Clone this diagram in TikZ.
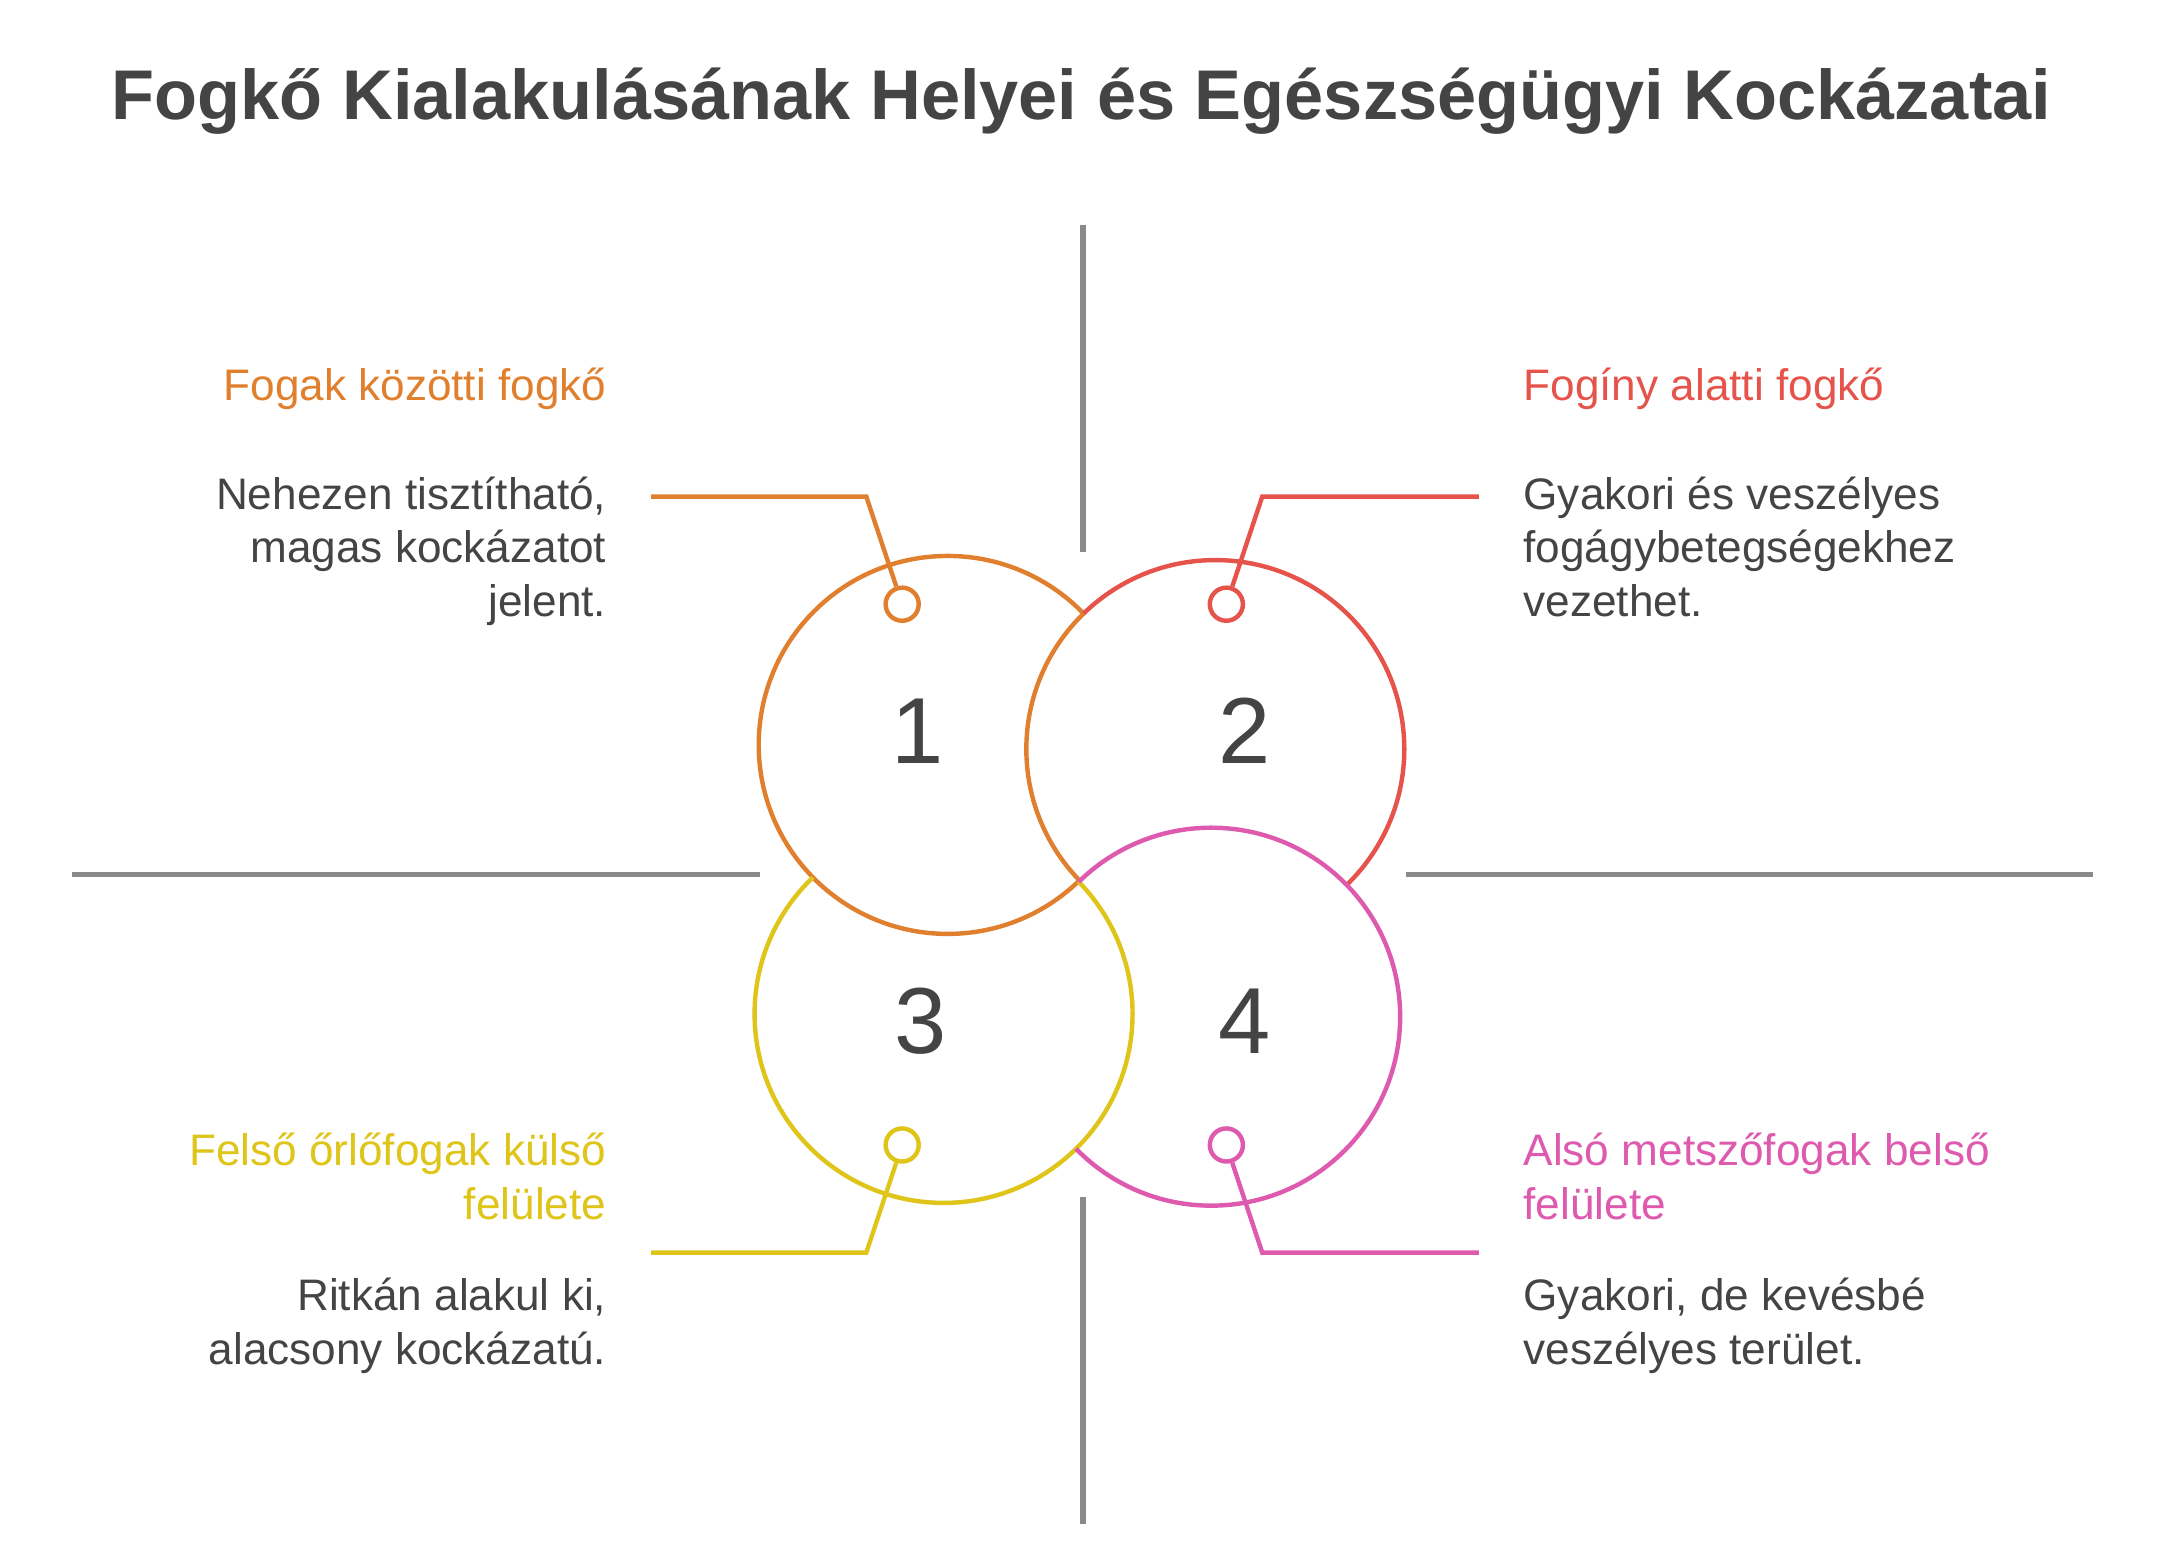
\documentclass[tikz,border=0pt]{standalone}
\usepackage{fontspec}
\setmainfont{Liberation Sans}
\usepackage{tikz}
\definecolor{cOrange}{HTML}{E07F2E}
\definecolor{cRed}{HTML}{E5534B}
\definecolor{cYellow}{HTML}{DFC41A}
\definecolor{cPink}{HTML}{DE5AAE}
\definecolor{cText}{HTML}{444444}
\definecolor{cGray}{HTML}{8A8A8A}
\begin{document}
\begin{tikzpicture}[x=0.5pt, y=-0.5pt, line width=1.5pt,
ring_style/.style={draw=#1, line width=1.6pt},
dot_style/.style={circle, draw=#1, line width=1.6pt, fill=white, minimum size=12pt, inner sep=0pt},
link_style/.style={draw=#1, line width=1.6pt},
axis_style/.style={draw=cGray, line width=2pt},
num_style/.style={text=cText, font=\fontsize{34}{40}\selectfont},
head_style/.style={text=#1, font=\fontsize{16}{19.5}\selectfont, inner sep=0pt},
body_style/.style={text=cText, font=\fontsize{16}{19.5}\selectfont, inner sep=0pt}]
\useasboundingbox (0,0) rectangle (1568,1124);
\node[text=cText, font=\bfseries\fontsize{25.5}{30}\selectfont] (title) at (784,73) {Fogkő Kialakulásának Helyei és Egészségügyi Kockázatai};

% axes
\coordinate (vt1) at (785,163); \coordinate (vt2) at (785,400);
\coordinate (vb1) at (785,868); \coordinate (vb2) at (785,1105);
\coordinate (hl1) at (52,634); \coordinate (hl2) at (551,634);
\coordinate (hr1) at (1019,634); \coordinate (hr2) at (1517,634);
\draw[axis_style] (vt1) -- (vt2);
\draw[axis_style] (vb1) -- (vb2);
\draw[axis_style] (hl1) -- (hl2);
\draw[axis_style] (hr1) -- (hr2);

% rings, woven
\coordinate (c1) at (687,540); \coordinate (c2) at (881,543);
\coordinate (c3) at (684,735); \coordinate (c4) at (878,737);
\begin{scope}[even odd rule]
\clip (0,0) rectangle (1568,1124) (c2) circle[radius=68.5pt];
\draw[ring_style=cOrange] (c1) circle[radius=68.5pt];
\end{scope}
\begin{scope}
\clip (c1) circle[radius=68.5pt];
\draw[ring_style=cOrange] (c2) circle[radius=68.5pt];
\end{scope}
\begin{scope}[even odd rule]
\clip (0,0) rectangle (1568,1124) (c1) circle[radius=68.5pt];
\clip (0,0) rectangle (1568,1124) (c4) circle[radius=68.5pt];
\draw[ring_style=cRed] (c2) circle[radius=68.5pt];
\end{scope}
\begin{scope}[even odd rule]
\clip (0,0) rectangle (1568,1124) (c1) circle[radius=68.5pt];
\draw[ring_style=cYellow] (c3) circle[radius=68.5pt];
\end{scope}
\begin{scope}[even odd rule]
\clip (0,0) rectangle (1568,1124) (c3) circle[radius=68.5pt];
\draw[ring_style=cPink] (c4) circle[radius=68.5pt];
\end{scope}

\node[num_style] (n1) at (665,530) {1};
\node[num_style] (n2) at (902,530) {2};
\node[num_style] (n3) at (667,740) {3};
\node[num_style] (n4) at (902,740) {4};

% markers and links
\node[dot_style=cOrange] (d1) at (654,438) {};
\node[dot_style=cRed] (d2) at (889,438) {};
\node[dot_style=cYellow] (d3) at (654,830) {};
\node[dot_style=cPink] (d4) at (889,830) {};
\coordinate (k1) at (628,360); \coordinate (e1) at (472,360);
\coordinate (k2) at (915,360); \coordinate (e2) at (1072,360);
\coordinate (k3) at (628,908); \coordinate (e3) at (472,908);
\coordinate (k4) at (915,908); \coordinate (e4) at (1072,908);
\draw[link_style=cOrange] (d1) -- (k1) -- (e1);
\draw[link_style=cRed] (d2) -- (k2) -- (e2);
\draw[link_style=cYellow] (d3) -- (k3) -- (e3);
\draw[link_style=cPink] (d4) -- (k4) -- (e4);

% texts
\node[head_style=cOrange, anchor=north east, align=right] (h1) at (441,265) {Fogak közötti fogkő};
\node[body_style, anchor=north east, align=right] (b1) at (441,344) {Nehezen tisztítható,\\magas kockázatot\\jelent.};
\node[head_style=cRed, anchor=north west, align=left] (h2) at (1103,265) {Fogíny alatti fogkő};
\node[body_style, anchor=north west, align=left] (b2) at (1103,344) {Gyakori és veszélyes\\fogágybetegségekhez\\vezethet.};
\node[head_style=cYellow, anchor=north east, align=right] (h3) at (441,820) {Felső őrlőfogak külső\\felülete};
\node[body_style, anchor=north east, align=right] (b3) at (441,925) {Ritkán alakul ki,\\alacsony kockázatú.};
\node[head_style=cPink, anchor=north west, align=left] (h4) at (1103,820) {Alsó metszőfogak belső\\felülete};
\node[body_style, anchor=north west, align=left] (b4) at (1103,925) {Gyakori, de kevésbé\\veszélyes terület.};
\end{tikzpicture}
\end{document}
